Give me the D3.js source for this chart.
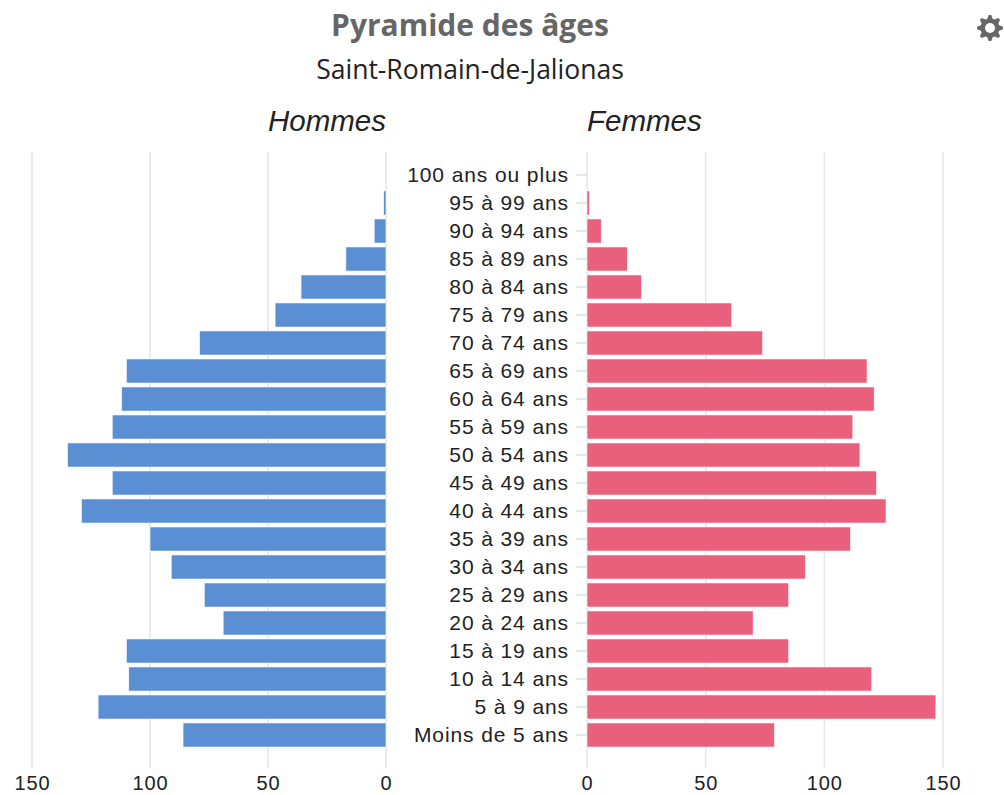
<!DOCTYPE html>
<html>
<head>
<meta charset="utf-8">
<script src="https://cdn.jsdelivr.net/npm/d3@7"></script>
<style>
  html, body { margin: 0; padding: 0; background: #fff; }
  svg { display: block; }
</style>
</head>
<body>
<svg id="chart" width="1004" height="795"></svg>
<script>
// age groups, bottom to top
const ages = [
  'Moins de 5 ans', '5 à 9 ans', '10 à 14 ans', '15 à 19 ans', '20 à 24 ans',
  '25 à 29 ans', '30 à 34 ans', '35 à 39 ans', '40 à 44 ans', '45 à 49 ans',
  '50 à 54 ans', '55 à 59 ans', '60 à 64 ans', '65 à 69 ans', '70 à 74 ans',
  '75 à 79 ans', '80 à 84 ans', '85 à 89 ans', '90 à 94 ans', '95 à 99 ans',
  '100 ans ou plus'
];
const hommes = [86, 122, 109, 110, 69, 77, 91, 100, 129, 116, 135, 116, 112, 110, 79, 47, 36, 17, 5, 1, 0];
const femmes = [79, 147, 120, 85, 70, 85, 92, 111, 126, 122, 115, 112, 121, 118, 74, 61, 23, 17, 6, 1, 0];
const ticks = [0, 50, 100, 150];

const title = 'Pyramide des âges';
const subtitle = 'Saint-Romain-de-Jalionas';

const svg = d3.select('#chart');

const rows = ages.map((age, i) => ({ age, h: hommes[i], f: femmes[i] }));

const y = d3.scaleBand()
  .domain(ages.slice().reverse())
  .range([161, 749])
  .paddingInner(0.14)
  .paddingOuter(0.07);

const xLeft = d3.scaleLinear().domain([0, 150]).range([386, 32]);
const xRight = d3.scaleLinear().domain([0, 150]).range([587, 943]);

const labelFont = '"Liberation Sans", Arial, sans-serif';

// gridlines
const grid = svg.append('g');
[xLeft, xRight].forEach((sc) => {
  grid.selectAll(null)
    .data(ticks)
    .enter().append('line')
    .attr('x1', d => sc(d)).attr('x2', d => sc(d))
    .attr('y1', 152).attr('y2', 768)
    .attr('stroke', '#e6e6e6')
    .attr('stroke-width', 1.5);
});

// bars
svg.append('g').selectAll('rect')
  .data(rows)
  .enter().append('rect')
  .attr('x', d => xLeft(d.h))
  .attr('y', d => y(d.age))
  .attr('width', d => xLeft(0) - xLeft(d.h))
  .attr('height', y.bandwidth())
  .attr('fill', '#5b8fd4')
  .attr('stroke', d => d.h > 0 ? '#fff' : 'none')
  .attr('stroke-width', 0.6);

svg.append('g').selectAll('rect')
  .data(rows)
  .enter().append('rect')
  .attr('x', xRight(0))
  .attr('y', d => y(d.age))
  .attr('width', d => xRight(d.f) - xRight(0))
  .attr('height', y.bandwidth())
  .attr('fill', '#e8607c')
  .attr('stroke', d => d.f > 0 ? '#fff' : 'none')
  .attr('stroke-width', 0.6);

// category axis
const yAxis = svg.append('g')
  .attr('transform', `translate(${xRight(0)},0)`)
  .call(d3.axisLeft(y).tickSize(11).tickPadding(7));
yAxis.select('.domain').remove();
yAxis.selectAll('.tick line').attr('stroke', '#d0d0d0');
yAxis.selectAll('.tick text')
  .attr('fill', '#222')
  .style('font-family', labelFont)
  .style('font-size', '21px')
  .style('letter-spacing', '0.9px');

// value axes
[xLeft, xRight].forEach((sc) => {
  const ax = svg.append('g')
    .attr('transform', 'translate(0,770)')
    .call(d3.axisBottom(sc).tickValues(ticks).tickSize(0).tickPadding(0));
  ax.select('.domain').remove();
  ax.selectAll('.tick text')
    .attr('dy', '0')
    .attr('y', 20)
    .attr('fill', '#222')
    .style('font-family', labelFont)
    .style('font-size', '20px')
    .style('letter-spacing', '0.9px');
});

// titles
svg.append('text')
  .attr('x', 470).attr('y', 36)
  .attr('text-anchor', 'middle')
  .attr('fill', '#666')
  .style('font-family', '"Open Sans", sans-serif')
  .style('font-weight', 'bold')
  .style('font-size', '30px')
  .text(title);

svg.append('text')
  .attr('x', 470).attr('y', 79)
  .attr('text-anchor', 'middle')
  .attr('fill', '#222')
  .style('font-family', '"Open Sans", sans-serif')
  .style('font-size', '26.5px')
  .text(subtitle);

svg.append('text')
  .attr('x', xLeft(0)).attr('y', 131)
  .attr('text-anchor', 'end')
  .attr('fill', '#222')
  .style('font-family', labelFont)
  .style('font-style', 'italic')
  .style('font-size', '29.5px')
  .text('Hommes');

svg.append('text')
  .attr('x', xRight(0)).attr('y', 131)
  .attr('text-anchor', 'start')
  .attr('fill', '#222')
  .style('font-family', labelFont)
  .style('font-style', 'italic')
  .style('font-size', '29.5px')
  .text('Femmes');

// gear icon (export menu)
const gear = svg.append('g').attr('transform', 'translate(990,28)');
const teeth = 8;
const pts = [];
for (let i = 0; i < teeth * 4; i++) {
  const a = (i / (teeth * 4)) * 2 * Math.PI - Math.PI / 2 - Math.PI / 32;
  const r = (Math.floor(i / 2) % 2 === 0) ? 13 : 9.5;
  pts.push([r * Math.cos(a), r * Math.sin(a)]);
}
gear.append('path')
  .attr('d', d3.line()(pts) + 'Z')
  .attr('fill', '#666');
gear.append('circle').attr('r', 5).attr('fill', '#fff');
</script>
</body>
</html>
